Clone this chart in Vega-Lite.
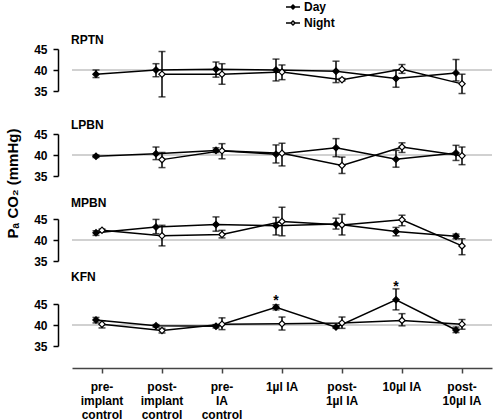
{
  "$schema": "https://vega.github.io/schema/vega-lite/v6.json",
  "padding": {"left": 5, "top": 1, "right": 0, "bottom": 0},
  "background": "white",
  "spacing": 43,
  "bounds": "flush",
  "config": {
    "view": {"stroke": null},
    "font": "Liberation Sans",
    "title": {"anchor": "start", "frame": "group", "fontSize": 12, "fontWeight": "bold", "font": "Liberation Sans", "offset": -4, "dx": -1, "color": "black"},
    "axisY": {"grid": false, "domainColor": "black", "domainWidth": 1.5, "tickColor": "black", "tickWidth": 1.5, "tickSize": 5, "offset": 14, "labelOverlap": false, "labelFont": "Liberation Sans", "labelFontSize": 12, "labelFontWeight": "bold", "labelColor": "black", "labelPadding": 6, "titleFont": "Liberation Sans", "titleFontSize": 15, "titleFontWeight": "bold", "titleColor": "black"},
    "axisX": {"grid": false, "domainColor": "#444", "domainWidth": 1.5, "tickColor": "#444", "tickWidth": 1.5, "tickSize": 5, "offset": 22, "labelFont": "Liberation Sans", "labelFontSize": 12, "labelFontWeight": "bold", "labelColor": "black", "labelPadding": 8, "labelLineHeight": 14, "labelAngle": 0, "labelExpr": "split(datum.label, '|')"},
    "legend": {"orient": "none", "legendX": 215, "legendY": -48, "title": null, "symbolType": "M-3.5,0H-1M1,0H3.5M0,-1L1,0L0,1L-1,0Z", "symbolSize": 16, "symbolStrokeColor": "black", "symbolStrokeWidth": 1.5, "labelFont": "Liberation Sans", "labelFontSize": 12, "labelFontWeight": "bold", "labelColor": "black", "labelOffset": 5, "rowPadding": 4}
  },
  "datasets": {
    "pts": [
      {"panel": "RPTN", "cond": "pre-|implant|control", "series": "Day", "mean": 39.0, "lo": 38.2, "hi": 40.0},
      {"panel": "RPTN", "cond": "post-|implant|control", "series": "Day", "mean": 40.0, "lo": 38.4, "hi": 41.5},
      {"panel": "RPTN", "cond": "post-|implant|control", "series": "Night", "mean": 39.0, "lo": 33.6, "hi": 44.4},
      {"panel": "RPTN", "cond": "pre-|IA|control", "series": "Day", "mean": 40.2, "lo": 38.3, "hi": 41.9},
      {"panel": "RPTN", "cond": "pre-|IA|control", "series": "Night", "mean": 39.0, "lo": 36.6, "hi": 41.5},
      {"panel": "RPTN", "cond": "1µl IA", "series": "Day", "mean": 40.0, "lo": 37.4, "hi": 42.6},
      {"panel": "RPTN", "cond": "1µl IA", "series": "Night", "mean": 39.5, "lo": 37.7, "hi": 41.2},
      {"panel": "RPTN", "cond": "post-|1µl IA", "series": "Day", "mean": 39.7, "lo": 37.0, "hi": 42.1},
      {"panel": "RPTN", "cond": "post-|1µl IA", "series": "Night", "mean": 37.7, "lo": 37.4, "hi": 38.0},
      {"panel": "RPTN", "cond": "10µl IA", "series": "Day", "mean": 38.0, "lo": 35.9, "hi": 40.0},
      {"panel": "RPTN", "cond": "10µl IA", "series": "Night", "mean": 40.2, "lo": 39.2, "hi": 41.3},
      {"panel": "RPTN", "cond": "post-|10µl IA", "series": "Day", "mean": 39.3, "lo": 37.4, "hi": 42.5},
      {"panel": "RPTN", "cond": "post-|10µl IA", "series": "Night", "mean": 36.7, "lo": 34.4, "hi": 39.0},

      {"panel": "LPBN", "cond": "pre-|implant|control", "series": "Day", "mean": 39.7, "lo": 39.4, "hi": 40.0},
      {"panel": "LPBN", "cond": "post-|implant|control", "series": "Day", "mean": 40.3, "lo": 38.9, "hi": 41.9},
      {"panel": "LPBN", "cond": "post-|implant|control", "series": "Night", "mean": 38.9, "lo": 37.0, "hi": 40.6},
      {"panel": "LPBN", "cond": "pre-|IA|control", "series": "Day", "mean": 41.1, "lo": 40.6, "hi": 41.7},
      {"panel": "LPBN", "cond": "pre-|IA|control", "series": "Night", "mean": 41.0, "lo": 39.1, "hi": 42.7},
      {"panel": "LPBN", "cond": "1µl IA", "series": "Day", "mean": 40.2, "lo": 38.1, "hi": 42.4},
      {"panel": "LPBN", "cond": "1µl IA", "series": "Night", "mean": 40.4, "lo": 37.4, "hi": 42.8},
      {"panel": "LPBN", "cond": "post-|1µl IA", "series": "Day", "mean": 41.7, "lo": 39.6, "hi": 43.9},
      {"panel": "LPBN", "cond": "post-|1µl IA", "series": "Night", "mean": 37.5, "lo": 35.6, "hi": 39.5},
      {"panel": "LPBN", "cond": "10µl IA", "series": "Day", "mean": 39.0, "lo": 37.1, "hi": 41.1},
      {"panel": "LPBN", "cond": "10µl IA", "series": "Night", "mean": 41.9, "lo": 40.6, "hi": 42.9},
      {"panel": "LPBN", "cond": "post-|10µl IA", "series": "Day", "mean": 40.5, "lo": 38.7, "hi": 42.3},
      {"panel": "LPBN", "cond": "post-|10µl IA", "series": "Night", "mean": 39.8, "lo": 37.7, "hi": 41.9},

      {"panel": "MPBN", "cond": "pre-|implant|control", "series": "Day", "mean": 41.7, "lo": 41.1, "hi": 42.2},
      {"panel": "MPBN", "cond": "pre-|implant|control", "series": "Night", "mean": 42.3, "lo": 42.0, "hi": 42.6},
      {"panel": "MPBN", "cond": "post-|implant|control", "series": "Day", "mean": 43.1, "lo": 41.5, "hi": 44.9},
      {"panel": "MPBN", "cond": "post-|implant|control", "series": "Night", "mean": 41.0, "lo": 38.6, "hi": 43.5},
      {"panel": "MPBN", "cond": "pre-|IA|control", "series": "Day", "mean": 43.7, "lo": 42.1, "hi": 45.5},
      {"panel": "MPBN", "cond": "pre-|IA|control", "series": "Night", "mean": 41.3, "lo": 40.5, "hi": 42.3},
      {"panel": "MPBN", "cond": "1µl IA", "series": "Day", "mean": 43.4, "lo": 41.2, "hi": 45.4},
      {"panel": "MPBN", "cond": "1µl IA", "series": "Night", "mean": 44.4, "lo": 41.0, "hi": 47.8},
      {"panel": "MPBN", "cond": "post-|1µl IA", "series": "Day", "mean": 43.8, "lo": 42.6, "hi": 45.2},
      {"panel": "MPBN", "cond": "post-|1µl IA", "series": "Night", "mean": 43.6, "lo": 41.2, "hi": 46.1},
      {"panel": "MPBN", "cond": "10µl IA", "series": "Day", "mean": 42.0, "lo": 41.0, "hi": 43.0},
      {"panel": "MPBN", "cond": "10µl IA", "series": "Night", "mean": 44.8, "lo": 43.4, "hi": 45.9},
      {"panel": "MPBN", "cond": "post-|10µl IA", "series": "Day", "mean": 40.9, "lo": 40.3, "hi": 41.4},
      {"panel": "MPBN", "cond": "post-|10µl IA", "series": "Night", "mean": 38.6, "lo": 36.5, "hi": 40.3},

      {"panel": "KFN", "cond": "pre-|implant|control", "series": "Day", "mean": 41.2, "lo": 40.5, "hi": 41.8},
      {"panel": "KFN", "cond": "pre-|implant|control", "series": "Night", "mean": 40.2, "lo": 39.3, "hi": 41.0},
      {"panel": "KFN", "cond": "post-|implant|control", "series": "Day", "mean": 39.8, "lo": 39.5, "hi": 40.1},
      {"panel": "KFN", "cond": "post-|implant|control", "series": "Night", "mean": 38.7, "lo": 38.1, "hi": 39.2},
      {"panel": "KFN", "cond": "pre-|IA|control", "series": "Day", "mean": 39.7, "lo": 39.3, "hi": 40.1},
      {"panel": "KFN", "cond": "pre-|IA|control", "series": "Night", "mean": 40.2, "lo": 38.9, "hi": 41.7},
      {"panel": "KFN", "cond": "1µl IA", "series": "Day", "mean": 44.2, "lo": 43.6, "hi": 44.8},
      {"panel": "KFN", "cond": "1µl IA", "series": "Night", "mean": 40.3, "lo": 38.8, "hi": 41.9},
      {"panel": "KFN", "cond": "post-|1µl IA", "series": "Day", "mean": 39.5, "lo": 39.2, "hi": 39.8},
      {"panel": "KFN", "cond": "post-|1µl IA", "series": "Night", "mean": 40.5, "lo": 39.2, "hi": 41.9},
      {"panel": "KFN", "cond": "10µl IA", "series": "Day", "mean": 46.0, "lo": 43.6, "hi": 48.6},
      {"panel": "KFN", "cond": "10µl IA", "series": "Night", "mean": 41.1, "lo": 39.8, "hi": 42.7},
      {"panel": "KFN", "cond": "post-|10µl IA", "series": "Day", "mean": 38.8, "lo": 38.2, "hi": 39.5},
      {"panel": "KFN", "cond": "post-|10µl IA", "series": "Night", "mean": 40.2, "lo": 39.0, "hi": 41.3}
    ],
    "stars": [
      {"panel": "KFN", "cond": "1µl IA", "series": "Day", "pos": 44.8, "label": "*"},
      {"panel": "KFN", "cond": "10µl IA", "series": "Day", "pos": 48.2, "label": "*"}
    ]
  },
  "data": {"name": "pts"},
  "vconcat": [
    {
      "width": 420, "height": 42,
      "title": {"text": "RPTN"},
      "transform": [{"filter": "datum.panel === 'RPTN'"}],
      "layer": [
        {"mark": {"type": "rule", "color": "#d0d0d0", "strokeWidth": 1.5}, "encoding": {"y": {"datum": 40, "type": "quantitative", "title": null, "scale": {"domain": [35, 45]}, "axis": {"values": [35, 40, 45], "tickCount": 3, "labelOverlap": false}}}},
        {"mark": {"type": "line", "color": "black", "strokeWidth": 1.5}, "encoding": {"x": {"field": "cond", "type": "nominal", "title": null, "axis": null, "scale": {"type": "band", "paddingInner": 0, "paddingOuter": 0, "domain": ["pre-|implant|control", "post-|implant|control", "pre-|IA|control", "1µl IA", "post-|1µl IA", "10µl IA", "post-|10µl IA"]}}, "xOffset": {"field": "series", "type": "nominal", "scale": {"type": "point", "padding": 0, "domain": ["Day", "Night"], "range": [24, 30]}}, "y": {"field": "mean", "type": "quantitative", "title": null, "scale": {"domain": [35, 45]}, "axis": {"values": [35, 40, 45], "tickCount": 3, "labelOverlap": false}}, "detail": {"field": "series"}}},
        {"mark": {"type": "rule", "color": "black", "strokeWidth": 1.5}, "encoding": {"x": {"field": "cond", "type": "nominal", "title": null, "axis": null}, "xOffset": {"field": "series", "type": "nominal"}, "y": {"field": "lo", "type": "quantitative", "title": null}, "y2": {"field": "hi"}}},
        {"mark": {"type": "tick", "color": "black", "size": 7, "thickness": 1.5}, "encoding": {"x": {"field": "cond", "type": "nominal", "title": null, "axis": null}, "xOffset": {"field": "series", "type": "nominal"}, "y": {"field": "lo", "type": "quantitative", "title": null}}},
        {"mark": {"type": "tick", "color": "black", "size": 7, "thickness": 1.5}, "encoding": {"x": {"field": "cond", "type": "nominal", "title": null, "axis": null}, "xOffset": {"field": "series", "type": "nominal"}, "y": {"field": "hi", "type": "quantitative", "title": null}}},
        {"mark": {"type": "point", "shape": "diamond", "filled": true, "stroke": "black", "strokeWidth": 1.2, "size": 40, "opacity": 1}, "encoding": {"x": {"field": "cond", "type": "nominal", "title": null, "axis": null}, "xOffset": {"field": "series", "type": "nominal"}, "y": {"field": "mean", "type": "quantitative", "title": null}, "fill": {"field": "series", "type": "nominal", "scale": {"domain": ["Day", "Night"], "range": ["black", "white"]}}}}
      ]
    },
    {
      "width": 420, "height": 42,
      "title": {"text": "LPBN"},
      "transform": [{"filter": "datum.panel === 'LPBN'"}],
      "layer": [
        {"mark": {"type": "rule", "color": "#d0d0d0", "strokeWidth": 1.5}, "encoding": {"y": {"datum": 40, "type": "quantitative", "title": "Pₐ CO₂ (mmHg)", "scale": {"domain": [35, 45]}, "axis": {"values": [35, 40, 45], "tickCount": 3, "labelOverlap": false, "titleX": -46, "titleY": 49, "titleAlign": "center", "titleBaseline": "middle", "titleAngle": 270}}}},
        {"mark": {"type": "line", "color": "black", "strokeWidth": 1.5}, "encoding": {"x": {"field": "cond", "type": "nominal", "title": null, "axis": null, "scale": {"type": "band", "paddingInner": 0, "paddingOuter": 0, "domain": ["pre-|implant|control", "post-|implant|control", "pre-|IA|control", "1µl IA", "post-|1µl IA", "10µl IA", "post-|10µl IA"]}}, "xOffset": {"field": "series", "type": "nominal", "scale": {"type": "point", "padding": 0, "domain": ["Day", "Night"], "range": [24, 30]}}, "y": {"field": "mean", "type": "quantitative", "title": "Pₐ CO₂ (mmHg)", "scale": {"domain": [35, 45]}, "axis": {"values": [35, 40, 45], "tickCount": 3, "labelOverlap": false, "titleX": -46, "titleY": 49, "titleAlign": "center", "titleBaseline": "middle", "titleAngle": 270}}, "detail": {"field": "series"}}},
        {"mark": {"type": "rule", "color": "black", "strokeWidth": 1.5}, "encoding": {"x": {"field": "cond", "type": "nominal", "title": null, "axis": null}, "xOffset": {"field": "series", "type": "nominal"}, "y": {"field": "lo", "type": "quantitative", "title": "Pₐ CO₂ (mmHg)"}, "y2": {"field": "hi"}}},
        {"mark": {"type": "tick", "color": "black", "size": 7, "thickness": 1.5}, "encoding": {"x": {"field": "cond", "type": "nominal", "title": null, "axis": null}, "xOffset": {"field": "series", "type": "nominal"}, "y": {"field": "lo", "type": "quantitative", "title": "Pₐ CO₂ (mmHg)"}}},
        {"mark": {"type": "tick", "color": "black", "size": 7, "thickness": 1.5}, "encoding": {"x": {"field": "cond", "type": "nominal", "title": null, "axis": null}, "xOffset": {"field": "series", "type": "nominal"}, "y": {"field": "hi", "type": "quantitative", "title": "Pₐ CO₂ (mmHg)"}}},
        {"mark": {"type": "point", "shape": "diamond", "filled": true, "stroke": "black", "strokeWidth": 1.2, "size": 40, "opacity": 1}, "encoding": {"x": {"field": "cond", "type": "nominal", "title": null, "axis": null}, "xOffset": {"field": "series", "type": "nominal"}, "y": {"field": "mean", "type": "quantitative", "title": "Pₐ CO₂ (mmHg)"}, "fill": {"field": "series", "type": "nominal", "scale": {"domain": ["Day", "Night"], "range": ["black", "white"]}}}}
      ]
    },
    {
      "width": 420, "height": 42,
      "title": {"text": "MPBN"},
      "transform": [{"filter": "datum.panel === 'MPBN'"}],
      "layer": [
        {"mark": {"type": "rule", "color": "#d0d0d0", "strokeWidth": 1.5}, "encoding": {"y": {"datum": 40, "type": "quantitative", "title": null, "scale": {"domain": [35, 45]}, "axis": {"values": [35, 40, 45], "tickCount": 3, "labelOverlap": false}}}},
        {"mark": {"type": "line", "color": "black", "strokeWidth": 1.5}, "encoding": {"x": {"field": "cond", "type": "nominal", "title": null, "axis": null, "scale": {"type": "band", "paddingInner": 0, "paddingOuter": 0, "domain": ["pre-|implant|control", "post-|implant|control", "pre-|IA|control", "1µl IA", "post-|1µl IA", "10µl IA", "post-|10µl IA"]}}, "xOffset": {"field": "series", "type": "nominal", "scale": {"type": "point", "padding": 0, "domain": ["Day", "Night"], "range": [24, 30]}}, "y": {"field": "mean", "type": "quantitative", "title": null, "scale": {"domain": [35, 45]}, "axis": {"values": [35, 40, 45], "tickCount": 3, "labelOverlap": false}}, "detail": {"field": "series"}}},
        {"mark": {"type": "rule", "color": "black", "strokeWidth": 1.5}, "encoding": {"x": {"field": "cond", "type": "nominal", "title": null, "axis": null}, "xOffset": {"field": "series", "type": "nominal"}, "y": {"field": "lo", "type": "quantitative", "title": null}, "y2": {"field": "hi"}}},
        {"mark": {"type": "tick", "color": "black", "size": 7, "thickness": 1.5}, "encoding": {"x": {"field": "cond", "type": "nominal", "title": null, "axis": null}, "xOffset": {"field": "series", "type": "nominal"}, "y": {"field": "lo", "type": "quantitative", "title": null}}},
        {"mark": {"type": "tick", "color": "black", "size": 7, "thickness": 1.5}, "encoding": {"x": {"field": "cond", "type": "nominal", "title": null, "axis": null}, "xOffset": {"field": "series", "type": "nominal"}, "y": {"field": "hi", "type": "quantitative", "title": null}}},
        {"mark": {"type": "point", "shape": "diamond", "filled": true, "stroke": "black", "strokeWidth": 1.2, "size": 40, "opacity": 1}, "encoding": {"x": {"field": "cond", "type": "nominal", "title": null, "axis": null}, "xOffset": {"field": "series", "type": "nominal"}, "y": {"field": "mean", "type": "quantitative", "title": null}, "fill": {"field": "series", "type": "nominal", "scale": {"domain": ["Day", "Night"], "range": ["black", "white"]}}}}
      ]
    },
    {
      "width": 420, "height": 42,
      "title": {"text": "KFN"},
      "transform": [{"filter": "datum.panel === 'KFN'"}],
      "layer": [
        {"mark": {"type": "rule", "color": "#d0d0d0", "strokeWidth": 1.5}, "encoding": {"y": {"datum": 40, "type": "quantitative", "title": null, "scale": {"domain": [35, 45]}, "axis": {"values": [35, 40, 45], "tickCount": 3, "labelOverlap": false}}}},
        {"mark": {"type": "line", "color": "black", "strokeWidth": 1.5}, "encoding": {"x": {"field": "cond", "type": "nominal", "title": null, "axis": {"offset": 22}, "scale": {"type": "band", "paddingInner": 0, "paddingOuter": 0, "domain": ["pre-|implant|control", "post-|implant|control", "pre-|IA|control", "1µl IA", "post-|1µl IA", "10µl IA", "post-|10µl IA"]}}, "xOffset": {"field": "series", "type": "nominal", "scale": {"type": "point", "padding": 0, "domain": ["Day", "Night"], "range": [24, 30]}}, "y": {"field": "mean", "type": "quantitative", "title": null, "scale": {"domain": [35, 45]}, "axis": {"values": [35, 40, 45], "tickCount": 3, "labelOverlap": false}}, "detail": {"field": "series"}}},
        {"mark": {"type": "rule", "color": "black", "strokeWidth": 1.5}, "encoding": {"x": {"field": "cond", "type": "nominal", "title": null, "axis": {"offset": 22}}, "xOffset": {"field": "series", "type": "nominal"}, "y": {"field": "lo", "type": "quantitative", "title": null}, "y2": {"field": "hi"}}},
        {"mark": {"type": "tick", "color": "black", "size": 7, "thickness": 1.5}, "encoding": {"x": {"field": "cond", "type": "nominal", "title": null, "axis": {"offset": 22}}, "xOffset": {"field": "series", "type": "nominal"}, "y": {"field": "lo", "type": "quantitative", "title": null}}},
        {"mark": {"type": "tick", "color": "black", "size": 7, "thickness": 1.5}, "encoding": {"x": {"field": "cond", "type": "nominal", "title": null, "axis": {"offset": 22}}, "xOffset": {"field": "series", "type": "nominal"}, "y": {"field": "hi", "type": "quantitative", "title": null}}},
        {"mark": {"type": "point", "shape": "diamond", "filled": true, "stroke": "black", "strokeWidth": 1.2, "size": 40, "opacity": 1}, "encoding": {"x": {"field": "cond", "type": "nominal", "title": null, "axis": {"offset": 22}}, "xOffset": {"field": "series", "type": "nominal"}, "y": {"field": "mean", "type": "quantitative", "title": null}, "fill": {"field": "series", "type": "nominal", "scale": {"domain": ["Day", "Night"], "range": ["black", "white"]}}}},
        {"data": {"name": "stars"}, "mark": {"type": "text", "fontSize": 14, "fontWeight": "bold", "font": "Liberation Sans", "color": "black", "baseline": "alphabetic"}, "encoding": {"x": {"field": "cond", "type": "nominal", "title": null, "axis": {"offset": 22}}, "xOffset": {"field": "series", "type": "nominal"}, "y": {"field": "pos", "type": "quantitative", "title": null}, "text": {"field": "label"}}}
      ]
    }
  ]
}
